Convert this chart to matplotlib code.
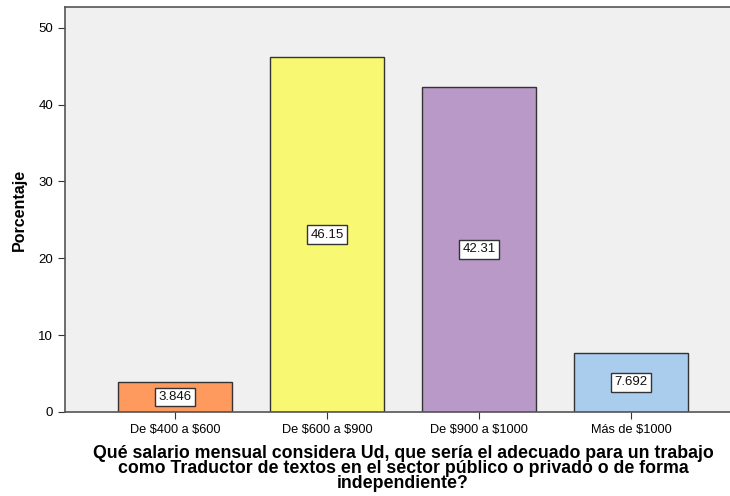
import matplotlib
matplotlib.use("Agg")
import matplotlib.pyplot as plt

plt.rcParams["font.family"] = ["Liberation Sans", "DejaVu Sans"]

categories = ["De \\$400 a \\$600", "De \\$600 a \\$900", "De \\$900 a \\$1000", "Más de \\$1000"]
values = [3.846, 46.15, 42.31, 7.692]
labels = ["3.846", "46.15", "42.31", "7.692"]
colors = ["#FF9A5E", "#F9F873", "#B899C8", "#AACDEE"]

fig = plt.figure(figsize=(7.3, 4.96), dpi=100)
ax = fig.add_axes([0.0890, 0.1694, 0.9260, 0.8165])
ax.set_facecolor("#F0F0F0")

x = range(len(categories))
ax.bar(x, values, width=0.75, color=colors, edgecolor="#333333", linewidth=1.0, zorder=2)

for xi, v, t in zip(x, values, labels):
    ax.text(xi, v / 2, t, ha="center", va="center", fontsize=9.5, color="#111111",
            bbox=dict(boxstyle="square,pad=0.25", facecolor="white", edgecolor="#333333", linewidth=1.0),
            zorder=3)

ax.set_xlim(-0.724, 3.724)
ax.set_ylim(0, 52.7)
ax.set_yticks([0, 10, 20, 30, 40, 50])
ax.set_xticks(list(x))
ax.set_xticklabels(categories, fontsize=9.2)
ax.tick_params(axis="y", labelsize=9.5, length=5, color="#333333", direction="out")
ax.tick_params(axis="x", length=5, color="#333333", direction="out", pad=4)

for side in ["left", "bottom", "top", "right"]:
    ax.spines[side].set_color("#555555")
    ax.spines[side].set_linewidth(1.2)

ax.set_ylabel("Porcentaje", fontsize=11.5, fontweight="bold", labelpad=8)
ax.set_xlabel("Qué salario mensual considera Ud, que sería el adecuado para un trabajo\n"
              "como Traductor de textos en el sector público o privado o de forma\n"
              "independiente?", fontsize=12.8, fontweight="bold", linespacing=0.86, labelpad=6)

fig.savefig("out.png", dpi=100)
